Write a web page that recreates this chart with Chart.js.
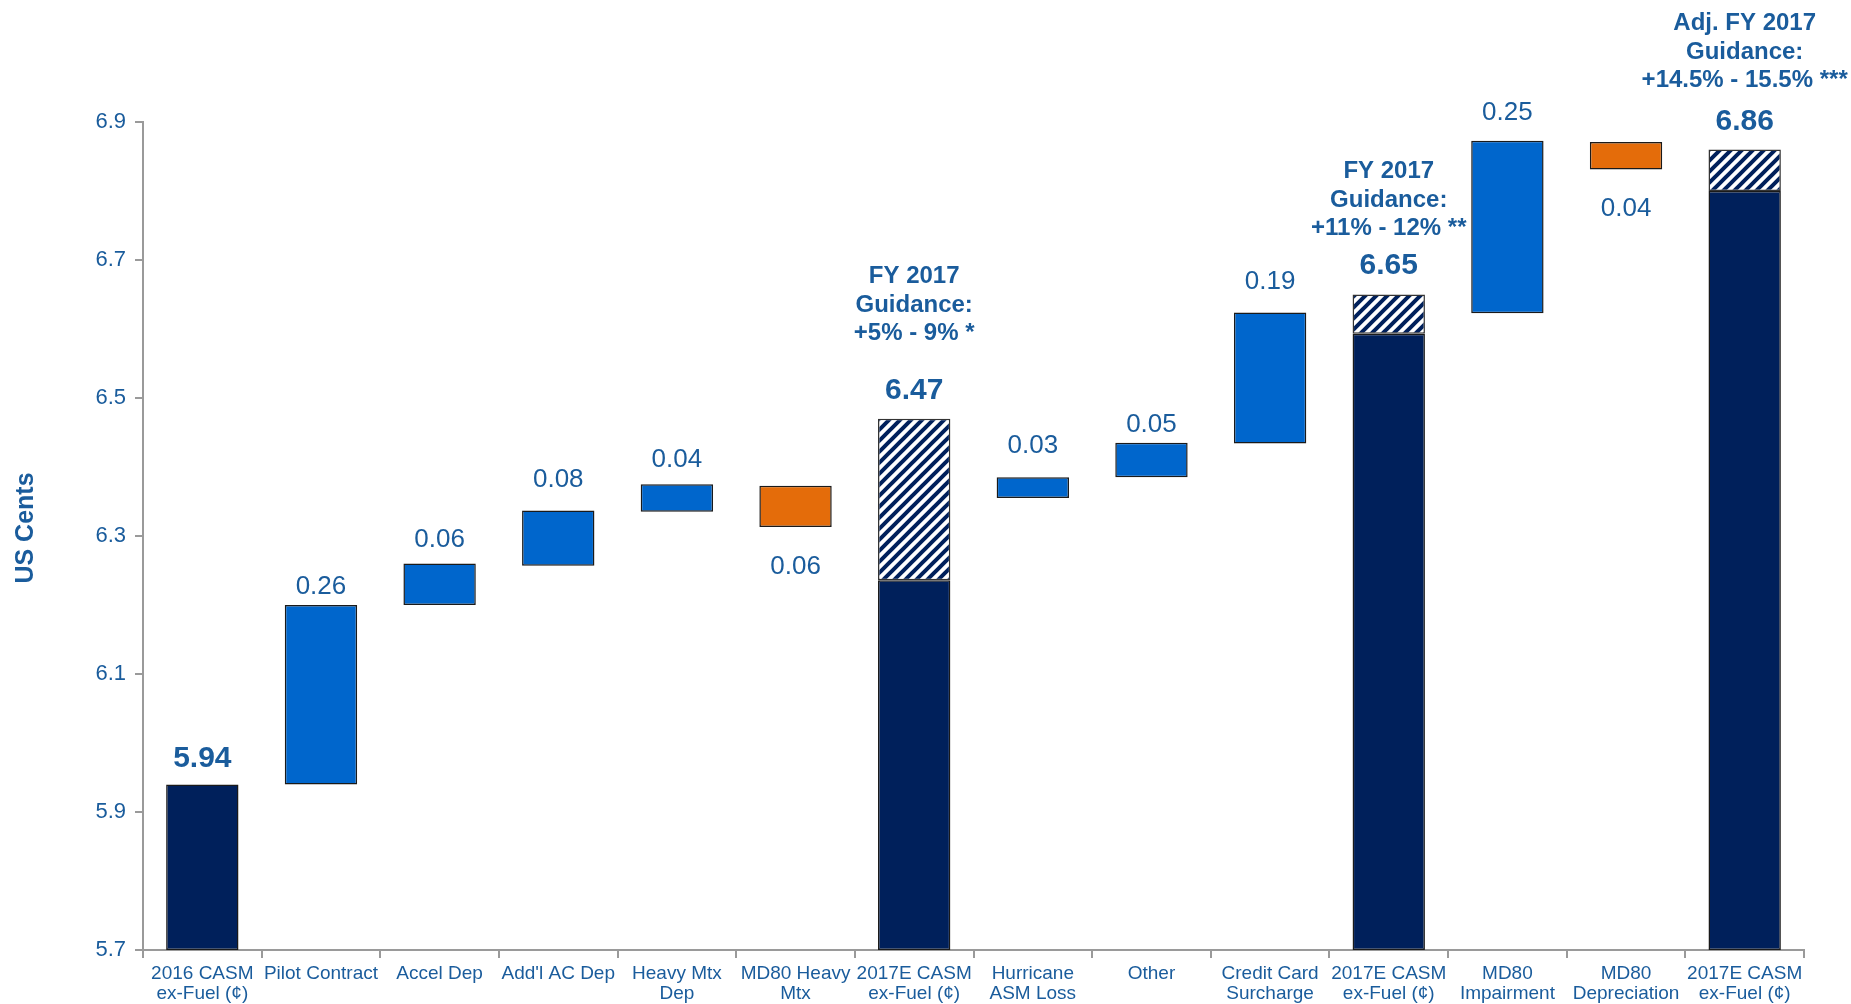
<!DOCTYPE html>
<html>
<head>
<meta charset="utf-8">
<title>CASM ex-Fuel</title>
<script src="https://cdn.jsdelivr.net/npm/chart.js@4.4.1/dist/chart.umd.min.js"></script>
<style>
	html, body { margin: 0; padding: 0; background: #fff; }
	#wrap { width: 1851px; height: 1004px; }
</style>
</head>
<body>
<div id="wrap"><canvas id="chart-casm" width="1851" height="1004"></canvas></div>
<script>
	// cost walk, US cents
	const categories = [
		["2016 CASM", "ex-Fuel (¢)"], "Pilot Contract", "Accel Dep", "Add'l AC Dep",
		["Heavy Mtx", "Dep"], ["MD80 Heavy", "Mtx"], ["2017E CASM", "ex-Fuel (¢)"],
		["Hurricane", "ASM Loss"], "Other", ["Credit Card", "Surcharge"],
		["2017E CASM", "ex-Fuel (¢)"], ["MD80", "Impairment"], ["MD80", "Depreciation"],
		["2017E CASM", "ex-Fuel (¢)"]
	];
	const barKind = ["total", "up", "up", "up", "up", "down", "total", "up", "up", "up", "total", "up", "down", "total"];
	const stepValues = [5.94, 0.26, 0.06, 0.08, 0.04, -0.06, 6.47, 0.03, 0.05, 0.19, 6.65, 0.25, -0.04, 6.86];
	const stepBase = [5.7, 5.94, 6.20, 6.257, 6.335, 6.373, 5.7, 6.355, 6.385, 6.434, 5.7, 6.623, 6.871, 5.7];
	// low end of the guidance range, solid part of the total bars
	const totalSolid = [5.94, null, null, null, null, null, 6.236, null, null, null, 6.593, null, null, 6.80];
	const guidanceNotes = [
		null, null, null, null, null, null,
		["FY 2017", "Guidance:", "+5% - 9% *"],
		null, null, null,
		["FY 2017", "Guidance:", "+11% - 12% **"],
		null, null,
		["Adj. FY 2017", "Guidance:", "+14.5% - 15.5% ***"]
	];
	const yTicks = [5.7, 5.9, 6.1, 6.3, 6.5, 6.7, 6.9];

	const NAVY = "#00205b";
	const BLUE = "#0066cc";
	const ORANGE = "#e46c0a";
	const TEXT = "#1a5c9c";
	const AXIS = "#9a9a9a";
	const FONT = "'Liberation Sans', Arial, sans-serif";

	// label distance from the bar end, px
	const labelLift = [26, 18, 24, 31, 24, 40, 28, 32, 18, 31, 29, 28, 39, 28];
	// gap between total label and the guidance note above it
	const guidanceGap = { 6: 57, 10: 37, 13: 41 };

	function makeHatch(ctx)
	{
		var n = 11;
		var c = document.createElement("canvas");
		c.width = n;
		c.height = n;
		var g = c.getContext("2d");
		g.fillStyle = "#fff";
		g.fillRect(0, 0, n, n);
		g.strokeStyle = NAVY;
		g.lineWidth = 4;
		g.beginPath();
		g.moveTo(-2, n + 2); g.lineTo(n + 2, -2);
		g.moveTo(-2, 2); g.lineTo(2, -2);
		g.moveTo(n - 2, n + 2); g.lineTo(n + 2, n - 2);
		g.stroke();
		return ctx.createPattern(c, "repeat");
	}

	function BuildMainBars()
	{
		let data = [];
		let colors = [];
		for (let i = 0; i < categories.length; i++)
		{
			if (barKind[i] == "total")
			{
				data.push([stepBase[i], totalSolid[i]]);
				colors.push(NAVY);
			}
			else
			{
				let end = stepBase[i] + stepValues[i];
				data.push([Math.min(stepBase[i], end), Math.max(stepBase[i], end)]);
				colors.push(barKind[i] == "up" ? BLUE : ORANGE);
			}
		}
		return { data: data, colors: colors };
	}

	function BuildHatchBars()
	{
		let data = [];
		for (let i = 0; i < categories.length; i++)
		{
			if (barKind[i] == "total" && totalSolid[i] < stepValues[i])
				data.push([totalSolid[i], stepValues[i]]);
			else
				data.push(null);
		}
		return data;
	}

	const valueLabels = {
		id: "valueLabels",
		afterDatasetsDraw: function(chart)
		{
			let ctx = chart.ctx;
			let x = chart.scales.x;
			let y = chart.scales.y;
			ctx.save();
			ctx.fillStyle = TEXT;
			ctx.textAlign = "center";
			ctx.textBaseline = "middle";
			for (let i = 0; i < categories.length; i++)
			{
				let cx = x.getPixelForValue(i);
				if (barKind[i] == "total")
				{
					let labelY = y.getPixelForValue(stepValues[i]) - labelLift[i];
					ctx.font = "bold 30px " + FONT;
					ctx.fillText(stepValues[i].toFixed(2), cx, labelY);
					let note = guidanceNotes[i];
					if (note)
					{
						ctx.font = "bold 24px " + FONT;
						let lineY = labelY - guidanceGap[i];
						for (let k = note.length - 1; k >= 0; k--)
						{
							ctx.fillText(note[k], cx, lineY);
							lineY -= 28.5;
						}
					}
				}
				else
				{
					let end = stepBase[i] + stepValues[i];
					ctx.font = "26px " + FONT;
					let text = Math.abs(stepValues[i]).toFixed(2);
					if (barKind[i] == "up")
						ctx.fillText(text, cx, y.getPixelForValue(end) - labelLift[i]);
					else
						ctx.fillText(text, cx, y.getPixelForValue(end) + labelLift[i]);
				}
			}

			// axis title
			ctx.translate(26, 528);
			ctx.rotate(-Math.PI / 2);
			ctx.font = "bold 25px " + FONT;
			ctx.fillText("US Cents", 0, 0);
			ctx.restore();
		}
	};

	var canvas = document.getElementById("chart-casm");
	var main = BuildMainBars();

	new Chart(canvas, {
		type: "bar",
		data: {
			labels: categories,
			datasets: [
				{
					data: main.data,
					backgroundColor: main.colors,
					borderColor: "#1a1a1a",
					borderWidth: 1.5,
					borderSkipped: false,
					grouped: false,
					barPercentage: 0.61,
					categoryPercentage: 1.0
				},
				{
					data: BuildHatchBars(),
					backgroundColor: makeHatch(canvas.getContext("2d")),
					borderColor: "#333",
					borderWidth: 1.5,
					borderSkipped: false,
					grouped: false,
					barPercentage: 0.61,
					categoryPercentage: 1.0
				}
			]
		},
		options: {
			responsive: false,
			animation: false,
			layout: { padding: { top: 122, right: 47, left: 0, bottom: 0 } },
			plugins: {
				legend: { display: false },
				tooltip: { enabled: false }
			},
			scales: {
				x: {
					grid: { display: true, drawOnChartArea: false, drawTicks: true, tickLength: 8, color: AXIS, lineWidth: 2, offset: true },
					border: { display: true, color: AXIS, width: 2 },
					ticks: {
						color: TEXT,
						font: { family: FONT, size: 19, lineHeight: 1.05 },
						padding: 6,
						autoSkip: false,
						maxRotation: 0,
						minRotation: 0
					},
					afterFit: function(scale) { scale.height = 54; }
				},
				y: {
					min: 5.7,
					max: 6.9,
					grid: { display: true, drawOnChartArea: false, drawTicks: true, tickLength: 8, color: AXIS, lineWidth: 2 },
					border: { display: true, color: AXIS, width: 2 },
					ticks: {
						color: TEXT,
						font: { family: FONT, size: 22 },
						padding: 9,
						callback: function(v) { return v.toFixed(1); }
					},
					afterBuildTicks: function(scale)
					{
						scale.ticks = yTicks.map(function(v) { return { value: v }; });
					},
					afterFit: function(scale) { scale.width = 143; }
				}
			}
		},
		plugins: [valueLabels]
	});
</script>
</body>
</html>
